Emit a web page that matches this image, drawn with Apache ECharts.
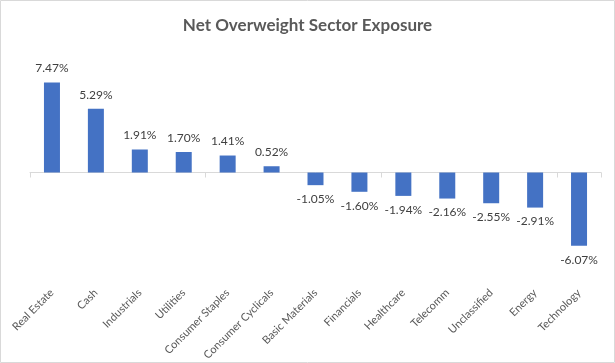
<!DOCTYPE html>
<html><head><meta charset="utf-8">
<script src="https://cdn.jsdelivr.net/npm/echarts@6/dist/echarts.min.js"></script>
<style>html,body{margin:0;padding:0;background:#fff}#c{width:615px;height:363px}</style>
</head><body><div id="c"></div>
<script>
const categories = ['Real Estate','Cash','Industrials','Utilities','Consumer Staples','Consumer Cyclicals','Basic Materials','Financials','Healthcare','Telecomm','Unclassified','Energy','Technology'];
const values = [7.47, 5.29, 1.91, 1.70, 1.41, 0.52, -1.05, -1.60, -1.94, -2.16, -2.55, -2.91, -6.07];
const titleText = 'Net Overweight Sector Exposure';

const chart = echarts.init(document.getElementById('c'));
chart.setOption({
  animation: false,
  title: { text: titleText, left: 'center', top: 12,
    textStyle: { fontFamily: 'Lato', fontSize: 17, fontWeight: 'bold', color: '#595959' } },
  graphic: [{ type: 'rect', shape: { x: 0.5, y: 0.5, width: 614, height: 362 },
    style: { fill: null, stroke: '#d9d9d9', lineWidth: 1 }, silent: true }],
  grid: { left: 30, right: 14, top: 52, bottom: 93 },
  xAxis: [{
    type: 'category', data: categories, position: 'bottom',
    axisLine: { show: false, onZero: false }, axisTick: { show: false },
    axisLabel: { rotate: 45, interval: 0, margin: 22, fontFamily: 'Lato', fontSize: 11, color: '#595959' }
  }, {
    type: 'category', data: categories, position: 'bottom',
    axisLine: { show: true, onZero: true, lineStyle: { color: '#d9d9d9', width: 1 } },
    axisTick: { show: true, length: 5, alignWithLabel: false, lineStyle: { color: '#d9d9d9' } },
    axisLabel: { show: false }
  }],
  yAxis: { type: 'value', min: -8, max: 10, interval: 2, show: false, splitLine: { show: false } },
  series: [{
    type: 'bar', barWidth: 16, xAxisIndex: 0,
    data: values.map(v => v < 0 ? { value: v, label: { position: 'bottom' } } : v),
    itemStyle: { color: '#4472C4' },
    label: { show: true, position: 'top', distance: 8, fontFamily: 'Lato', fontSize: 12, color: '#404040',
      formatter: p => p.value.toFixed(2) + '%' }
  }]
});
</script></body></html>
